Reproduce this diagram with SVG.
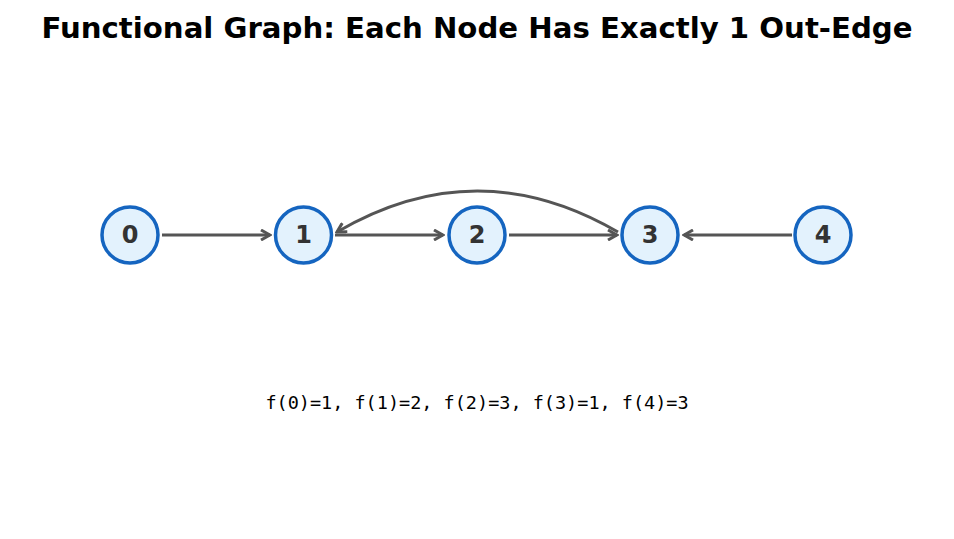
<svg xmlns="http://www.w3.org/2000/svg" width="954" height="539" viewBox="0 0 954 539">
<style>
.n circle{fill:#e3f2fd;stroke:#1565c0;stroke-width:3.5}
.n text{font-family:"DejaVu Sans",sans-serif;font-weight:bold;font-size:24px;fill:#333;text-anchor:middle}
.e{stroke:#555;stroke-width:3;fill:none;marker-end:url(#a)}
</style>
<defs><marker id="a" markerWidth="12" markerHeight="12" refX="10" refY="6" orient="auto" markerUnits="userSpaceOnUse"><path d="M1,1 L10,6 L1,11" fill="none" stroke="#555" stroke-width="3"/></marker></defs>
<rect width="954" height="539" fill="#fff"/>
<text x="477" y="38" text-anchor="middle" font-family="DejaVu Sans,sans-serif" font-weight="bold" font-size="29.2">Functional Graph: Each Node Has Exactly 1 Out-Edge</text>
<g id="connectors">
<line class="e" x1="162" y1="235" x2="270" y2="235"/>
<line class="e" x1="335" y1="235" x2="443" y2="235"/>
<line class="e" x1="509" y1="235" x2="617" y2="235"/>
<line class="e" x1="792" y1="235" x2="684" y2="235"/>
<path class="e" d="M618,232 Q477,150 337,232"/>
</g>
<g id="n0" class="n"><circle cx="130" cy="235" r="28"/><text x="130" y="243">0</text></g>
<g id="n1" class="n"><circle cx="303.5" cy="235" r="28"/><text x="303.5" y="243">1</text></g>
<g id="n2" class="n"><circle cx="477" cy="235" r="28"/><text x="477" y="243">2</text></g>
<g id="n3" class="n"><circle cx="650" cy="235" r="28"/><text x="650" y="243">3</text></g>
<g id="n4" class="n"><circle cx="823" cy="235" r="28"/><text x="823" y="243">4</text></g>
<text x="477" y="409" text-anchor="middle" font-family="DejaVu Sans Mono,monospace" font-size="18.5">f(0)=1, f(1)=2, f(2)=3, f(3)=1, f(4)=3</text>
</svg>
